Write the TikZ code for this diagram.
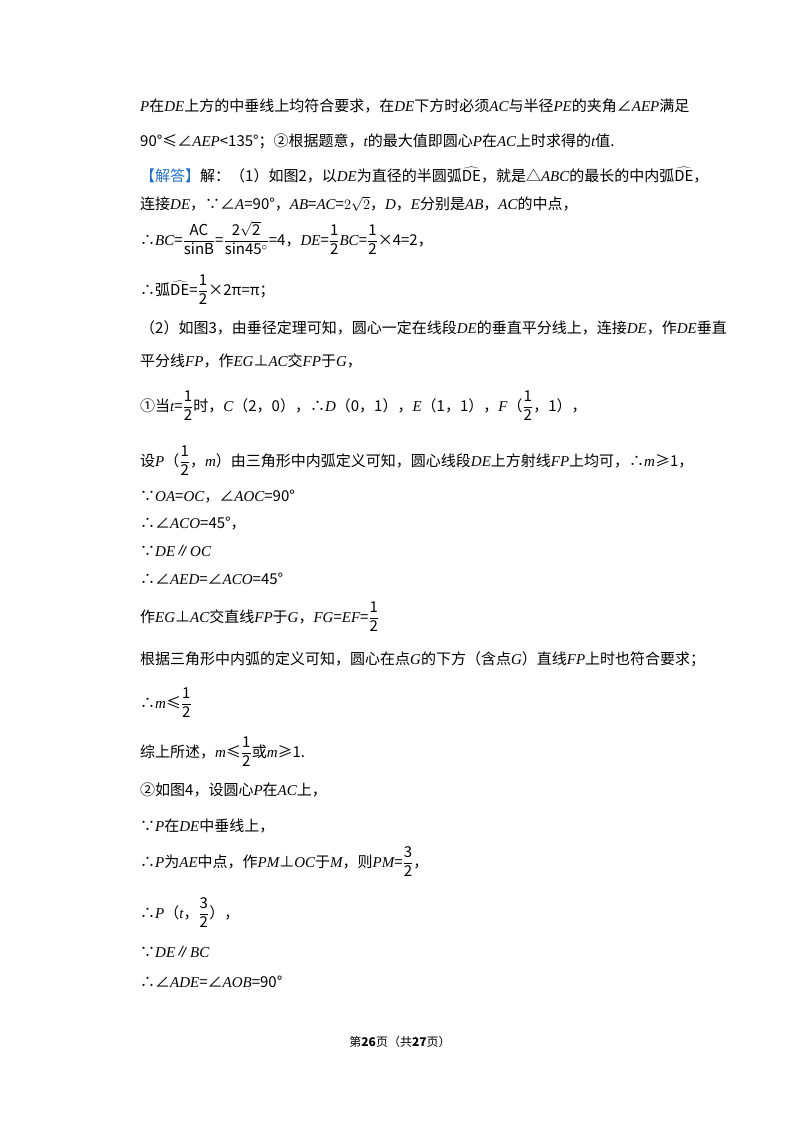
\documentclass[tikz,border=0pt]{standalone}
\usepackage{fontspec}
\setmainfont{Noto Sans CJK SC}
\newfontfamily\tmi{Liberation Serif}[ItalicFont={Liberation Serif Italic}]
\newcommand\iv[1]{{\tmi\itshape #1}}
\newcommand\dfr[2]{$\displaystyle\frac{\mathrm{#1}}{\mathrm{#2}}$}
\newcommand\arcde{$\widehat{\mathrm{DE}}$}
\begin{document}
\begin{tikzpicture}[x=1pt,y=-1pt,
  ln/.style={anchor=base west,inner sep=0pt,font=\fontsize{15}{17}\selectfont}]
\fill[white] (0,0) rectangle (800,1132);
\node[ln] (l1) at (140,111) {\iv{P}在\iv{DE}上方的中垂线上均符合要求，在\iv{DE}下方时必须\iv{AC}与半径\iv{PE}的夹角∠\iv{AEP}满足};
\node[ln] (l2) at (140,146) {90°≤∠\iv{AEP}<135°；②根据题意，\iv{t}的最大值即圆心\iv{P}在\iv{AC}上时求得的\iv{t}值.};
\node[ln] (l3) at (140,181) {\textcolor[HTML]{1F6FD0}{【解答】}解：（1）如图2，以\iv{DE}为直径的半圆弧\arcde，就是△\iv{ABC}的最长的中内弧\arcde，};
\node[ln] (l4) at (140,209) {连接\iv{DE}，∵∠\iv{A}=90°，\iv{AB}=\iv{AC}=$2\sqrt{2}$，\iv{D}，\iv{E}分别是\iv{AB}，\iv{AC}的中点，};
\node[ln] (l5) at (140,245) {∴\iv{BC}=\dfr{AC}{sinB}=\dfr{2\sqrt{2}}{sin45^\circ}=4，\iv{DE}=\dfr{1}{2}\iv{BC}=\dfr{1}{2}×4=2，};
\node[ln] (l6) at (140,295) {∴弧\arcde=\dfr{1}{2}×2π=π；};
\node[ln] (l7) at (140,333) {（2）如图3，由垂径定理可知，圆心一定在线段\iv{DE}的垂直平分线上，连接\iv{DE}，作\iv{DE}垂直};
\node[ln] (l8) at (140,366) {平分线\iv{FP}，作\iv{EG}⊥\iv{AC}交\iv{FP}于\iv{G}，};
\node[ln] (l9) at (140,411) {①当\iv{t}=\dfr{1}{2}时，\iv{C}（2，0），∴\iv{D}（0，1），\iv{E}（1，1），\iv{F}（\dfr{1}{2}，1），};
\node[ln] (l10) at (140,466) {设\iv{P}（\dfr{1}{2}，\iv{m}）由三角形中内弧定义可知，圆心线段\iv{DE}上方射线\iv{FP}上均可，∴\iv{m}≥1，};
\node[ln] (l11) at (140,501) {∵\iv{OA}=\iv{OC}，∠\iv{AOC}=90°};
\node[ln] (l12) at (140,528) {∴∠\iv{ACO}=45°，};
\node[ln] (l13) at (140,556) {∵\iv{DE}∥\iv{OC}};
\node[ln] (l14) at (140,584) {∴∠\iv{AED}=∠\iv{ACO}=45°};
\node[ln] (l15) at (140,622) {作\iv{EG}⊥\iv{AC}交直线\iv{FP}于\iv{G}，\iv{FG}=\iv{EF}=\dfr{1}{2}};
\node[ln] (l16) at (140,664) {根据三角形中内弧的定义可知，圆心在点\iv{G}的下方（含点\iv{G}）直线\iv{FP}上时也符合要求；};
\node[ln] (l17) at (140,708) {∴\iv{m}≤\dfr{1}{2}};
\node[ln] (l18) at (140,757) {综上所述，\iv{m}≤\dfr{1}{2}或\iv{m}≥1.};
\node[ln] (l19) at (140,795) {②如图4，设圆心\iv{P}在\iv{AC}上，};
\node[ln] (l20) at (140,831) {∵\iv{P}在\iv{DE}中垂线上，};
\node[ln] (l21) at (140,867) {∴\iv{P}为\iv{AE}中点，作\iv{PM}⊥\iv{OC}于\iv{M}，则\iv{PM}=\dfr{3}{2}，};
\node[ln] (l22) at (140,918) {∴\iv{P}（\iv{t}，\dfr{3}{2}），};
\node[ln] (l23) at (140,957) {∵\iv{DE}∥\iv{BC}};
\node[ln] (l24) at (140,987) {∴∠\iv{ADE}=∠\iv{AOB}=90°};
\node[anchor=base,inner sep=0pt,font=\fontsize{12}{14}\selectfont] (ft) at (400,1046) {第\textbf{26}页（共\textbf{27}页）};
\end{tikzpicture}
\end{document}
